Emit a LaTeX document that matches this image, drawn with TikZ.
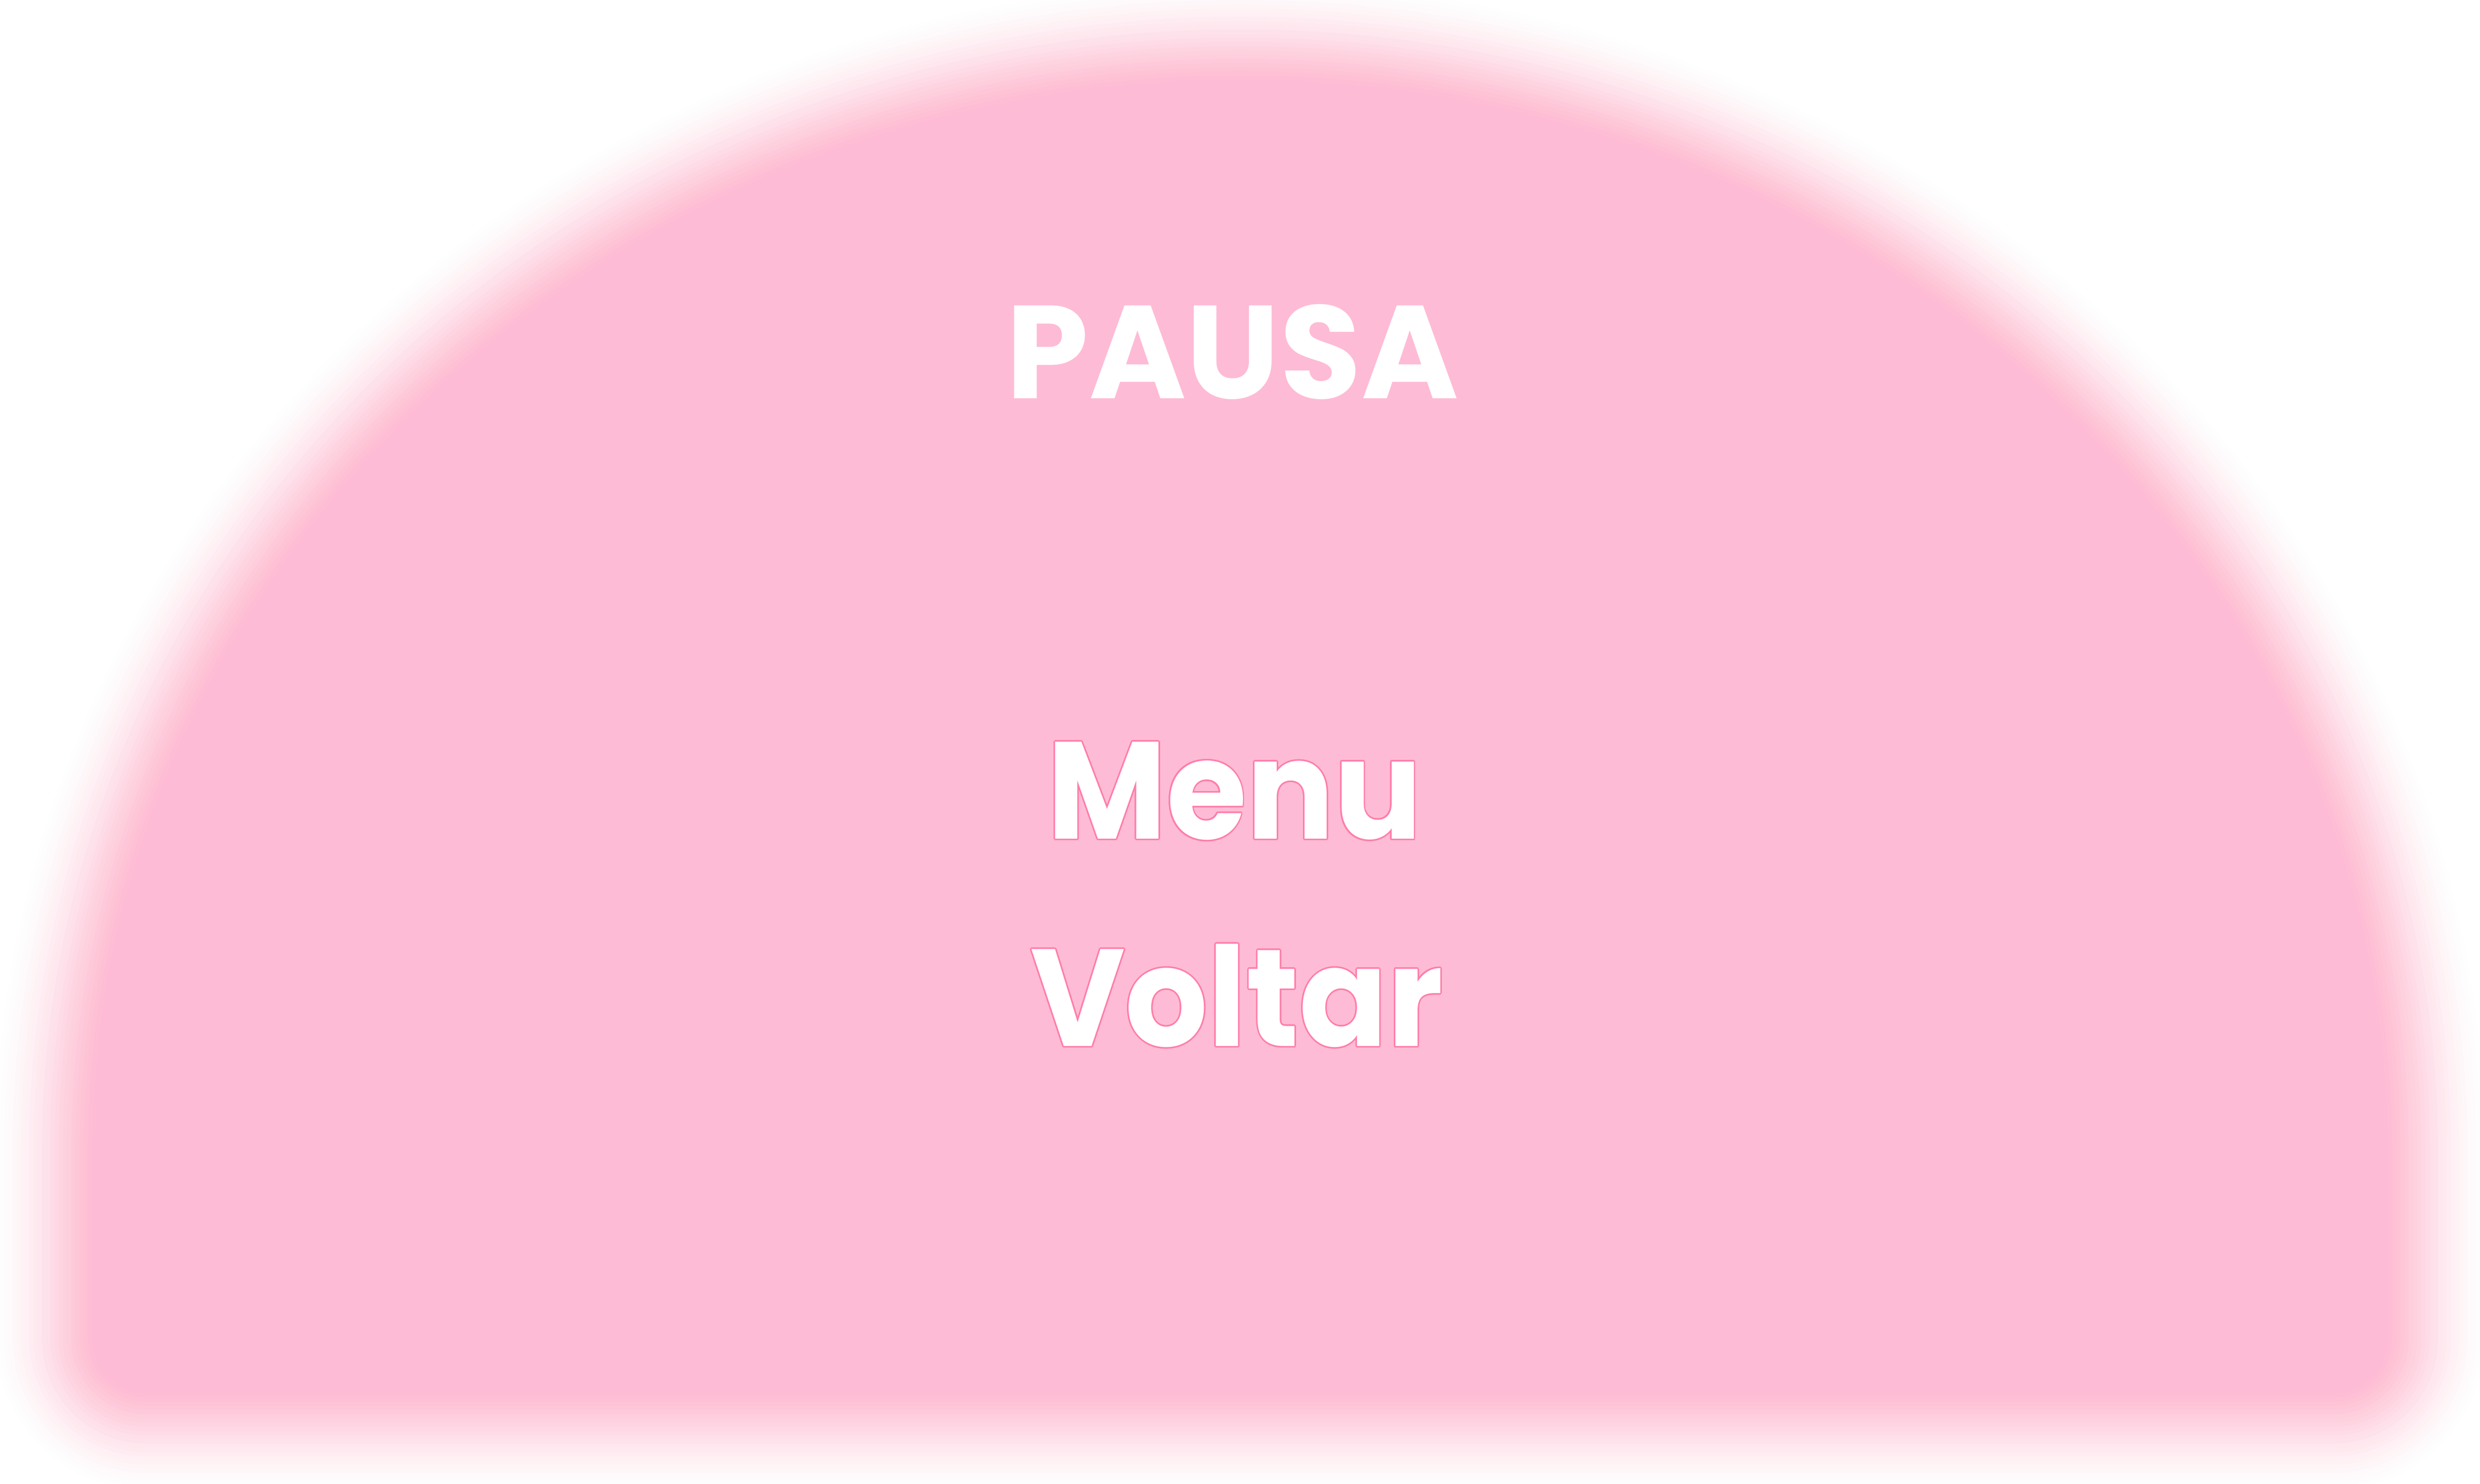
\documentclass[tikz,border=0pt]{standalone}
\usepackage{fontspec}
\usepackage{contour}
\usepackage{tikz}

\newfontfamily\bubble{Poppins}
\newfontfamily\bubblenarrow{Poppins}[FakeStretch=0.94]
\definecolor{domepink}{RGB}{254,187,213}
\definecolor{rimpink}{RGB}{255,125,168}
\contourlength{0.35mm}
\newcommand{\domepath}{(3,7.46) arc[start angle=180, end angle=0,
    x radius=26.63, y radius=25.3] -- (56.26,2.96) -- (3,2.96) -- cycle}

\begin{document}
\begin{tikzpicture}[auto = center,
    title/.style = {text = white, anchor = base,
                    font = \bubble\bfseries\fontsize{90}{90}\selectfont},
    entry/.style = {text = white, anchor = base,
                    font = \bubblenarrow\bfseries\fontsize{94}{94}\selectfont}]
        \useasboundingbox (0,0) rectangle (59.26,35.46);
        \clip (0,0) rectangle (59.26,35.46);
        \fill[white] (0,0) rectangle (59.26,35.46);

        % soft edge of the panel
        \foreach \k in {1,...,32}{
            \pgfmathsetmacro\ta{3*((\k-0.5)/32)^2-2*((\k-0.5)/32)^3}
            \pgfmathsetmacro\tb{3*(min(1,(\k+0.5)/32))^2-2*(min(1,(\k+0.5)/32))^3}
            \pgfmathsetmacro\ak{1-\ta/\tb}
            \draw[domepink, opacity = \ak, line width = \k*2mm,
                  rounded corners = 5mm, line join = round] \domepath;
        }
        \fill[domepink, rounded corners = 5mm] \domepath;

        \node[title] (pausa) at (29.45,25.94) {PAUSA};
        \node[entry] (menu) at (29.5,15.41) {\contour{rimpink}{Menu}};
        \node[entry] (voltar) at (29.55,10.46) {\contour{rimpink}{Voltar}};
      \end{tikzpicture}
\end{document}
